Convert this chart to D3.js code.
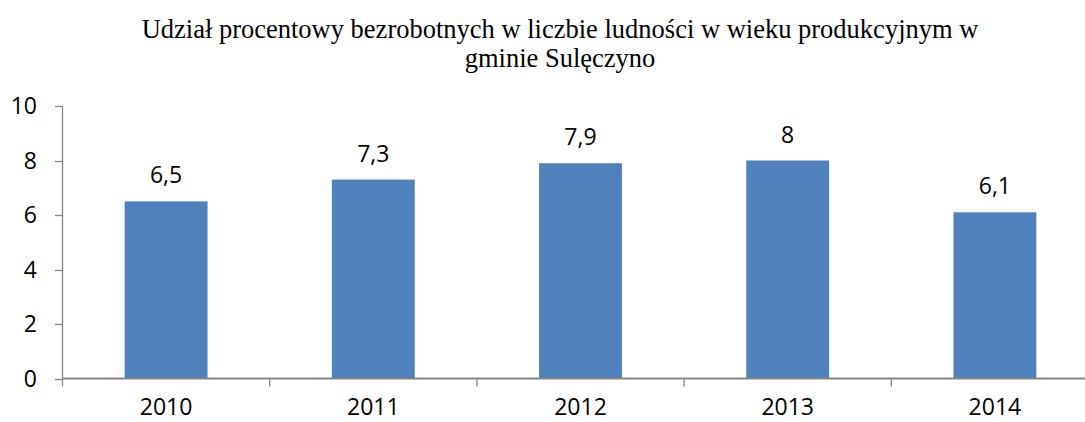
<!DOCTYPE html>
<html><head><meta charset="utf-8">
<script src="https://cdn.jsdelivr.net/npm/d3@7"></script>
<style>body{margin:0;background:#fff}svg{display:block}</style>
</head><body>
<svg id="c" width="1085" height="422"></svg>
<script>
const categories = ["2010","2011","2012","2013","2014"];
const values = [6.5, 7.3, 7.9, 8, 6.1];
const yTicks = [0,2,4,6,8,10];
const titleLines = ["Udział procentowy bezrobotnych w liczbie ludności w wieku produkcyjnym w","gminie Sulęczyno"];

const svg = d3.select("#c");
const x0 = 62.5, x1 = 1098.5, yTop = 106, yBot = 378.5;
const x = d3.scaleBand().domain(categories).range([x0, x1]).paddingInner(0.6).paddingOuter(0.3);
const y = d3.scaleLinear().domain([0,10]).range([yBot, yTop]);
const axisColor = "#868686";
const font = "'Open Sans', sans-serif";
const fs = 23;

svg.selectAll("text.title").data(titleLines).enter().append("text")
  .attr("x", 560).attr("y", (d,i)=>38+i*29)
  .attr("text-anchor","middle").attr("font-family","'Liberation Serif', serif")
  .attr("font-size",26.5).attr("fill","#000").text(d=>d);

// bars
svg.selectAll("rect.bar").data(values).enter().append("rect")
  .attr("x",(d,i)=>x(categories[i])).attr("width",x.bandwidth())
  .attr("y",d=>y(d)).attr("height",d=>y(0)-y(d)).attr("fill","#4F81BD");

// data labels
svg.selectAll("text.lbl").data(values).enter().append("text")
  .attr("x",(d,i)=>x(categories[i])+x.bandwidth()/2).attr("y",d=>y(d)-18)
  .attr("text-anchor","middle").attr("font-family",font).attr("font-size",fs).attr("fill","#000")
  .text(d=>String(d).replace(".",","));

// y axis
svg.append("line").attr("x1",x0).attr("x2",x0).attr("y1",y(10)).attr("y2",y(0)).attr("stroke",axisColor).attr("stroke-width",1.3);
svg.selectAll("line.yt").data(yTicks).enter().append("line")
  .attr("x1",55).attr("x2",x0).attr("y1",d=>Math.round(y(d))+0.5).attr("y2",d=>Math.round(y(d))+0.5)
  .attr("stroke",axisColor).attr("stroke-width",1.3);
svg.selectAll("text.yl").data(yTicks).enter().append("text")
  .attr("x",37).attr("y",d=>y(d)+8).attr("text-anchor","end")
  .attr("font-family",font).attr("font-size",fs).attr("fill","#000").text(d=>d);

// x axis
svg.append("line").attr("x1",x0).attr("x2",x1).attr("y1",yBot).attr("y2",yBot).attr("stroke",axisColor).attr("stroke-width",2);
const step = x.step();
svg.selectAll("line.xt").data(d3.range(categories.length+1)).enter().append("line")
  .attr("x1",d=>x0+d*step).attr("x2",d=>x0+d*step).attr("y1",yBot).attr("y2",yBot+8)
  .attr("stroke",axisColor).attr("stroke-width",1.3);
svg.selectAll("text.xl").data(categories).enter().append("text")
  .attr("x",d=>x(d)+x.bandwidth()/2).attr("y",415).attr("text-anchor","middle")
  .attr("font-family",font).attr("font-size",fs).attr("fill","#000").text(d=>d);
</script>
</body></html>
